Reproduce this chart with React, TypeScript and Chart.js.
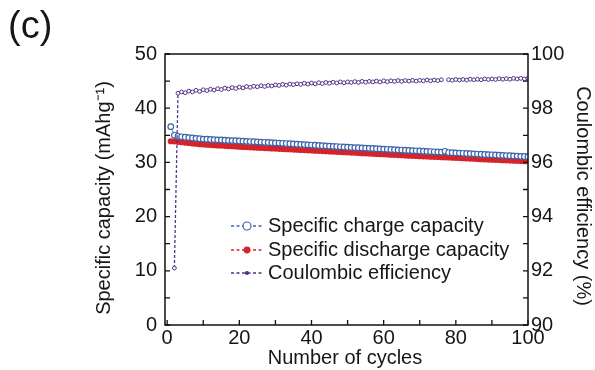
import React, { useEffect, useRef } from "react";
import { Chart, registerables } from "chart.js";

Chart.register(...registerables);

const CYCLES: number[] = Array.from({ length: 100 }, (_, i) => i + 1);

const CHARGE: number[] = [
  36.6, 35.0, 34.82, 34.72, 34.65, 34.58, 34.5, 34.44, 34.37, 34.3,
  34.27, 34.23, 34.2, 34.16, 34.13, 34.09, 34.06, 34.02, 33.99, 33.95,
  33.92, 33.88, 33.85, 33.81, 33.78, 33.74, 33.71, 33.67, 33.64, 33.6,
  33.56, 33.52, 33.48, 33.44, 33.4, 33.36, 33.32, 33.28, 33.24, 33.2,
  33.16, 33.12, 33.08, 33.04, 33.0, 32.96, 32.92, 32.88, 32.84, 32.8,
  32.77, 32.73, 32.7, 32.66, 32.63, 32.59, 32.56, 32.52, 32.49, 32.45,
  32.42, 32.38, 32.35, 32.31, 32.28, 32.24, 32.21, 32.17, 32.14, 32.1,
  32.07, 32.03, 32.0, 31.96, 31.93, 31.89, 32.05, 31.82, 31.79, 31.75,
  31.72, 31.68, 31.65, 31.61, 31.58, 31.54, 31.51, 31.47, 31.44, 31.4,
  31.37, 31.33, 31.3, 31.26, 31.23, 31.19, 31.16, 31.12, 31.09, 31.05,
];

const DISCHARGE: number[] = [
  33.9, 33.88, 33.8, 33.72, 33.65, 33.58, 33.51, 33.44, 33.37, 33.3,
  33.26, 33.22, 33.18, 33.14, 33.1, 33.06, 33.02, 32.98, 32.94, 32.9,
  32.86, 32.83, 32.79, 32.76, 32.72, 32.69, 32.65, 32.62, 32.58, 32.55,
  32.51, 32.48, 32.44, 32.41, 32.37, 32.34, 32.3, 32.27, 32.23, 32.2,
  32.16, 32.13, 32.09, 32.06, 32.02, 31.99, 31.95, 31.92, 31.88, 31.85,
  31.81, 31.78, 31.74, 31.71, 31.67, 31.64, 31.6, 31.57, 31.53, 31.5,
  31.46, 31.43, 31.39, 31.36, 31.32, 31.29, 31.25, 31.22, 31.18, 31.15,
  31.12, 31.09, 31.06, 31.03, 31.0, 30.97, 30.94, 30.91, 30.88, 30.85,
  30.81, 30.78, 30.74, 30.71, 30.67, 30.64, 30.6, 30.57, 30.53, 30.5,
  30.47, 30.44, 30.41, 30.38, 30.35, 30.32, 30.29, 30.26, 30.23, 30.2,
];

const COULOMBIC: (number | null)[] = [
  null, 92.1, 98.55, 98.6, 98.57, 98.63, 98.6, 98.66, 98.62, 98.68,
  98.65, 98.7, 98.67, 98.72, 98.69, 98.74, 98.71, 98.76, 98.73, 98.78,
  98.75, 98.8, 98.77, 98.81, 98.79, 98.83, 98.8, 98.84, 98.82, 98.86,
  98.84, 98.88, 98.85, 98.89, 98.87, 98.9, 98.88, 98.92, 98.89, 98.93,
  98.9, 98.94, 98.91, 98.95, 98.92, 98.96, 98.93, 98.97, 98.94, 98.97,
  98.95, 98.98, 98.95, 98.99, 98.96, 98.99, 98.97, 99.0, 98.97, 99.01,
  98.98, 99.01, 98.99, 99.02, 98.99, 99.02, 99.0, 99.03, 99.0, 99.03,
  99.01, 99.04, 99.01, 99.04, 99.02, 99.05, null, 99.05, 99.03, 99.06,
  99.04, 99.06, 99.04, 99.07, 99.05, 99.07, 99.05, 99.08, 99.06, 99.08,
  99.06, 99.09, 99.07, 99.09, 99.07, 99.1, 99.08, 99.1, 99.08, 99.1,
];

const X_TICKS = [0, 20, 40, 60, 80, 100];
const X_MINOR = [10, 30, 50, 70, 90];
const Y_TICKS = [0, 10, 20, 30, 40, 50];
const Y_MINOR = [5, 15, 25, 35, 45];
const Y2_TICKS = [90, 92, 94, 96, 98, 100];
const Y2_MINOR = [91, 93, 95, 97, 99];

const LEGEND_LABELS = [
  "Specific charge capacity",
  "Specific discharge capacity",
  "Coulombic efficiency",
];

const BLUE = "#3a64aa";
const RED = "#d6232a";
const PURPLE = "#523287";
const INK = "#161616";
const FONT = '"Liberation Sans", Arial, Helvetica, sans-serif';

const decorPlugin = {
  id: "decor",
  afterDraw(chart: any) {
    const { ctx, chartArea: a, scales } = chart;
    const x = scales.x, y = scales.y, y2 = scales.y1;
    ctx.save();
    ctx.strokeStyle = "#111";
    ctx.lineWidth = 1.5;
    ctx.strokeRect(a.left, a.top, a.right - a.left, a.bottom - a.top);
    ctx.lineWidth = 1.3;
    const TL = 5;
    ctx.beginPath();
    [...X_TICKS, ...X_MINOR].forEach((v) => {
      const px = x.getPixelForValue(v);
      ctx.moveTo(px, a.bottom);
      ctx.lineTo(px, a.bottom - TL);
    });
    [...Y_TICKS, ...Y_MINOR].forEach((v) => {
      const py = y.getPixelForValue(v);
      ctx.moveTo(a.left, py);
      ctx.lineTo(a.left + TL, py);
    });
    [...Y2_TICKS, ...Y2_MINOR].forEach((v) => {
      const py = y2.getPixelForValue(v);
      ctx.moveTo(a.right, py);
      ctx.lineTo(a.right - TL, py);
    });
    ctx.stroke();

    ctx.fillStyle = INK;
    ctx.font = `20px ${FONT}`;
    ctx.textAlign = "center";
    ctx.textBaseline = "middle";
    ctx.fillText("Number of cycles", 345, 358);

    ctx.save();
    ctx.translate(104, 198);
    ctx.rotate(-Math.PI / 2);
    ctx.fillText("Specific capacity (mAhg\u207B\u00B9)", 0, 0);
    ctx.restore();

    ctx.save();
    ctx.translate(583, 196);
    ctx.rotate(Math.PI / 2);
    ctx.fillText("Coulombic efficiency (%)", 0, 0);
    ctx.restore();

    ctx.font = `38px ${FONT}`;
    ctx.textAlign = "left";
    ctx.fillText("(c)", 8, 28);

    const rows = [226, 250, 273];
    const cols = [BLUE, RED, PURPLE];
    ctx.font = `20px ${FONT}`;
    rows.forEach((ry, i) => {
      ctx.strokeStyle = cols[i];
      ctx.lineWidth = 1.4;
      ctx.setLineDash([3, 2.5]);
      ctx.beginPath();
      ctx.moveTo(231, ry);
      ctx.lineTo(263, ry);
      ctx.stroke();
      ctx.setLineDash([]);
      ctx.beginPath();
      if (i === 0) {
        ctx.fillStyle = "#fff";
        ctx.arc(247, ry, 4, 0, Math.PI * 2);
        ctx.fill();
        ctx.lineWidth = 1.2;
        ctx.stroke();
      } else if (i === 1) {
        ctx.fillStyle = RED;
        ctx.arc(247, ry, 3.4, 0, Math.PI * 2);
        ctx.fill();
      } else {
        ctx.fillStyle = PURPLE;
        ctx.arc(247, ry, 2.1, 0, Math.PI * 2);
        ctx.fill();
      }
      ctx.fillStyle = INK;
      ctx.textAlign = "left";
      ctx.textBaseline = "middle";
      ctx.fillText(LEGEND_LABELS[i], 268, ry);
    });
    ctx.restore();
  },
};

export default function App() {
  const ref = useRef<HTMLCanvasElement | null>(null);

  useEffect(() => {
    const canvas = ref.current;
    if (!canvas) return;
    const toPts = (arr: (number | null)[]) =>
      CYCLES.map((c, i) => ({ x: c, y: arr[i] }));
    const chart = new Chart(canvas, {
      type: "line",
      data: {
        datasets: [
          {
            label: LEGEND_LABELS[2],
            data: toPts(COULOMBIC) as any,
            yAxisID: "y1",
            borderColor: PURPLE,
            borderWidth: 1.3,
            borderDash: [3, 2],
            pointRadius: 1.9,
            pointBorderWidth: 1,
            pointBackgroundColor: "#fff",
            pointBorderColor: PURPLE,
            spanGaps: false,
            order: 0,
          },
          {
            label: LEGEND_LABELS[0],
            data: toPts(CHARGE) as any,
            yAxisID: "y",
            borderColor: BLUE,
            borderWidth: 1,
            borderDash: [2, 2],
            pointRadius: 2.8,
            pointBorderWidth: 1.2,
            pointBackgroundColor: "#fff",
            pointBorderColor: BLUE,
            order: 1,
          },
          {
            label: LEGEND_LABELS[1],
            data: toPts(DISCHARGE) as any,
            yAxisID: "y",
            borderColor: RED,
            borderWidth: 1,
            borderDash: [2, 2],
            pointRadius: 3.1,
            pointBorderWidth: 0,
            pointBackgroundColor: RED,
            pointBorderColor: RED,
            order: 2,
          },
        ],
      },
      options: {
        responsive: false,
        animation: false,
        devicePixelRatio: 1,
        layout: { padding: { top: 54, left: 0, right: 0, bottom: 0 } },
        plugins: {
          legend: { display: false },
          tooltip: { enabled: false },
        },
        scales: {
          x: {
            type: "linear",
            min: -0.6,
            max: 100,
            grid: { display: false, drawTicks: false },
            border: { display: false },
            ticks: {
              padding: 1,
              color: INK,
              font: { size: 20, family: FONT },
              maxRotation: 0,
            },
            afterBuildTicks: (s: any) => {
              s.ticks = X_TICKS.map((v) => ({ value: v }));
            },
            afterFit: (s: any) => {
              s.height = 45;
            },
          },
          y: {
            type: "linear",
            position: "left",
            min: 0,
            max: 50,
            grid: { display: false, drawTicks: false },
            border: { display: false },
            ticks: {
              padding: 8,
              color: INK,
              font: { size: 20, family: FONT },
            },
            afterBuildTicks: (s: any) => {
              s.ticks = Y_TICKS.map((v) => ({ value: v }));
            },
            afterFit: (s: any) => {
              s.width = 165;
            },
          },
          y1: {
            type: "linear",
            position: "right",
            min: 90,
            max: 100,
            grid: { display: false, drawTicks: false },
            border: { display: false },
            ticks: {
              padding: 3,
              color: INK,
              font: { size: 20, family: FONT },
            },
            afterBuildTicks: (s: any) => {
              s.ticks = Y2_TICKS.map((v) => ({ value: v }));
            },
            afterFit: (s: any) => {
              s.width = 67;
            },
          },
        },
      },
      plugins: [decorPlugin],
    });
    return () => chart.destroy();
  }, []);

  return (
    <div
      style={{
        position: "absolute",
        left: 0,
        top: 0,
        width: 595,
        height: 370,
        background: "#fff",
      }}
    >
      <canvas ref={ref} width={595} height={370} />
    </div>
  );
}
